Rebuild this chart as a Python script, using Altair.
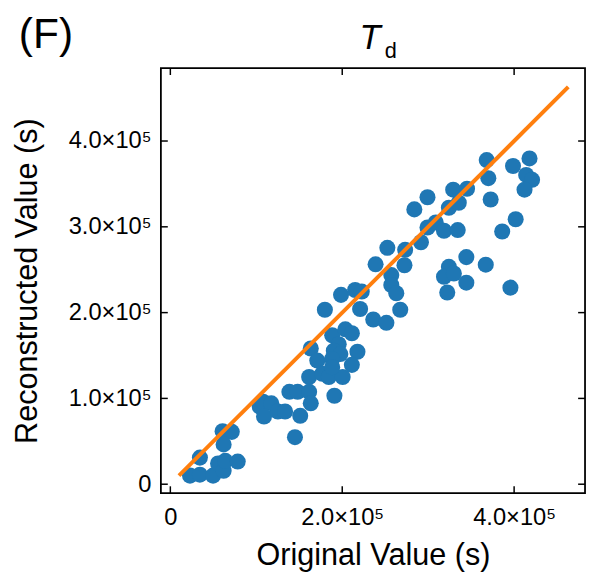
import altair as alt
import pandas as pd

# Original (x) and reconstructed (y) values, in seconds
orig = [22900, 34400, 34400, 49700, 55500, 62000, 63900, 78400, 60800, 71500, 62000,
        104000, 107900, 117500, 109000, 125100, 133500, 138500, 148100, 161500, 163400, 151100, 145000,
        163400, 171000, 161500, 176800, 184400, 200500, 190900, 188300, 203600, 211200, 195900, 190200,
        197800, 217700, 188300, 211200, 188300,
        179800, 198600, 215000, 222700, 220800, 236100, 251400, 238800, 272400, 257100, 257100, 262900,
        267500, 252500, 273200,
        283900, 299200, 291600, 299200, 308800, 318400, 334400, 324100, 335600, 329100, 345200, 372700,
        368100, 370000, 398700, 417900, 414000, 420900, 412100, 401800, 386100,
        344400, 367000, 324100, 318400, 329900, 344400, 322200, 395700]
recon = [10000, 11100, 31000, 10000, 24100, 15700, 27200, 26400, 61700, 61000, 46400,
         90400, 96200, 94300, 78900, 84700, 84700, 107700, 107700, 107700, 94300, 79700, 54800,
         158200, 144100, 124900, 128700, 124900, 124900, 103100, 173600, 180500, 175900, 163200, 155600,
         151700, 154400, 146000, 139100, 136400,
         203400, 220700, 226400, 224500, 204200, 192000, 188100, 256300, 255200, 243700, 232200, 222600,
         203400, 275500, 273200,
         320300, 334500, 282000, 299200, 305000, 295400, 296200, 322200, 328000, 343300, 344400, 331800,
         377800, 356700, 370900, 379700, 360500, 354800, 343300, 308800, 294600,
         264700, 255900, 253300, 241800, 245600, 234900, 223400, 229100]

identity_line = [10000, 463000]
x_ticks = [0, 200000, 400000]
y_ticks = [0, 100000, 200000, 300000, 400000]
x_domain = [-11000, 482500]
y_domain = [-10500, 485000]

W, H = 430, 431
FONT = "Liberation Sans"
TL = 7  # inward tick length

pts = pd.DataFrame({"x": orig, "y": recon})
line_df = pd.DataFrame({"x": identity_line, "y": identity_line})
xt = pd.DataFrame({"x": x_ticks})
yt = pd.DataFrame({"y": y_ticks})

label_expr = "datum.value == 0 ? '0' : format(datum.value / 100000, '.1f') + '\u00d710\u2075'"

xscale = alt.Scale(domain=x_domain, nice=False, zero=False)
yscale = alt.Scale(domain=y_domain, nice=False, zero=False)

xaxis = alt.Axis(values=x_ticks, labelExpr=label_expr, ticks=False, tickSize=0, domain=False,
                 grid=False, labelFont=FONT, labelFontSize=24, labelColor="black",
                 labelPadding=32, labelBaseline="alphabetic",
                 title="Original Value (s)", titleFont=FONT, titleFontSize=31,
                 titleFontWeight="normal", titleColor="black",
                 titleX=W / 2, titleY=72, titleBaseline="alphabetic", titleAlign="center")
yaxis = alt.Axis(values=y_ticks, labelExpr=label_expr, ticks=False, tickSize=0, domain=False,
                 grid=False, labelFont=FONT, labelFontSize=24, labelColor="black",
                 labelPadding=10, labelBaseline="middle",
                 title="Reconstructed Value (s)", titleFont=FONT, titleFontSize=31,
                 titleFontWeight="normal", titleColor="black",
                 titleX=-126, titleY=H / 2, titleAngle=-90, titleBaseline="alphabetic",
                 titleAlign="center")

X = alt.X("x:Q", scale=xscale, axis=xaxis)
Y = alt.Y("y:Q", scale=yscale, axis=yaxis)

points = alt.Chart(pts).mark_circle(size=265, color="#1f77b4", opacity=1).encode(x=X, y=Y)
line = alt.Chart(line_df).mark_line(color="#ff7f0e", strokeWidth=4).encode(x=X, y=Y)

tick_style = dict(color="black", strokeWidth=1.5)
bottom_ticks = alt.Chart(xt).mark_rule(**tick_style).encode(x=X, y=alt.value(H), y2=alt.value(H - TL))
top_ticks = alt.Chart(xt).mark_rule(**tick_style).encode(x=X, y=alt.value(0), y2=alt.value(TL))
left_ticks = alt.Chart(yt).mark_rule(**tick_style).encode(y=Y, x=alt.value(0), x2=alt.value(TL))
right_ticks = alt.Chart(yt).mark_rule(**tick_style).encode(y=Y, x=alt.value(W), x2=alt.value(W - TL))

panel = alt.Chart(pd.DataFrame({"t": ["(F)"]})).mark_text(
    font=FONT, fontSize=43, align="left", baseline="alphabetic", color="black"
).encode(text="t:N", x=alt.value(-144), y=alt.value(-20))
title_T = alt.Chart(pd.DataFrame({"t": ["T"]})).mark_text(
    font=FONT, fontSize=35, fontStyle="italic", align="center", baseline="alphabetic", color="black"
).encode(text="t:N", x=alt.value(212), y=alt.value(-19))
title_d = alt.Chart(pd.DataFrame({"t": ["d"]})).mark_text(
    font=FONT, fontSize=22, align="left", baseline="alphabetic", color="black"
).encode(text="t:N", x=alt.value(227), y=alt.value(-10))

chart = alt.layer(
    points, line, bottom_ticks, top_ticks, left_ticks, right_ticks, panel, title_T, title_d
).properties(
    width=W, height=H, autosize="none", background="white",
    padding={"left": 155, "top": 57, "right": 2, "bottom": 80},
).configure_view(stroke="black", strokeWidth=1.8)

chart.save("out.html", embed_options={"renderer": "svg", "actions": False})
